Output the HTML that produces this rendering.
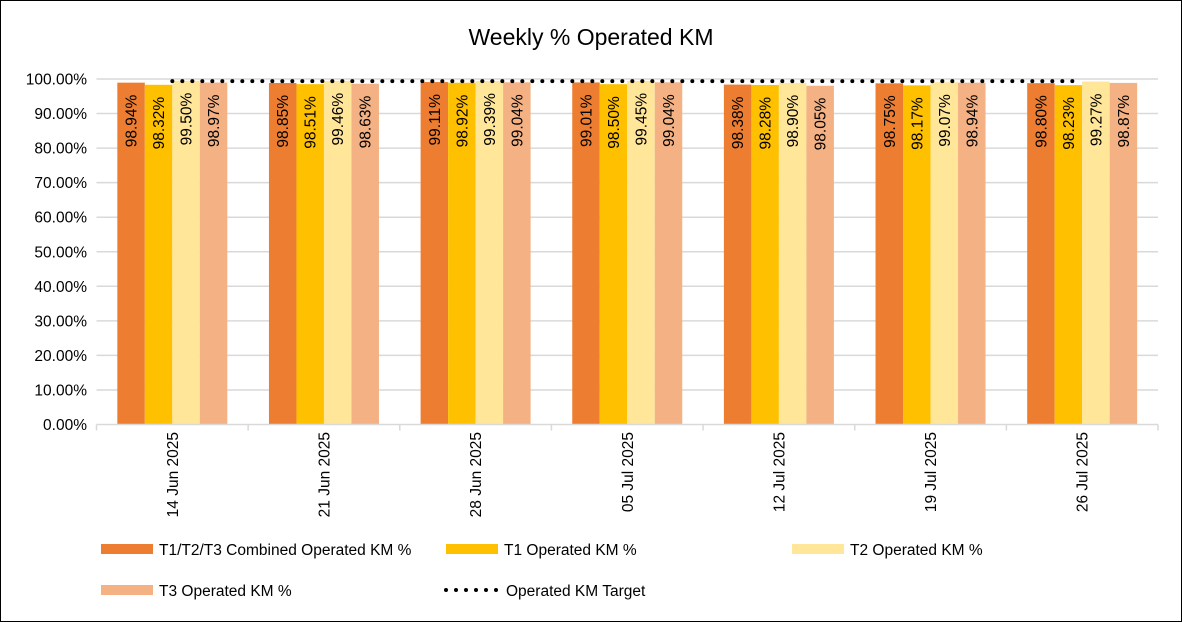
<!DOCTYPE html>
<html><head><meta charset="utf-8"><style>
body{margin:0;background:#fff;}
svg{display:block;font-family:"Liberation Sans",Calibri,sans-serif;}
</style></head><body>
<svg id="chart" width="1182" height="622">
<rect x="0.5" y="0.5" width="1181" height="621" fill="#fff" stroke="#000"/>
<text x="591" y="45" font-size="23" text-anchor="middle">Weekly % Operated KM</text>
<g id="grid"></g><g id="bars"></g><g id="target"></g><g id="axes"></g>
<g font-size="15.5">
<g><rect x="101" y="544" width="52" height="10" fill="#ED7D31"/><text x="159" y="555">T1/T2/T3 Combined Operated KM %</text></g>
<g><rect x="446" y="544" width="52" height="10" fill="#FFC000"/><text x="504" y="555">T1 Operated KM %</text></g>
<g><rect x="792" y="544" width="52" height="10" fill="#FFE699"/><text x="850" y="555">T2 Operated KM %</text></g>
<g><rect x="101" y="585" width="52" height="10" fill="#F4B183"/><text x="159" y="596">T3 Operated KM %</text></g>
<g><line x1="446" y1="590" x2="498" y2="590" stroke="#000" stroke-width="4" stroke-linecap="round" stroke-dasharray="0,10"/><text x="506" y="596">Operated KM Target</text></g>
</g>
</svg>
<script>
const categories=["14 Jun 2025","21 Jun 2025","28 Jun 2025","05 Jul 2025","12 Jul 2025","19 Jul 2025","26 Jul 2025"];
const combined=[98.94,98.85,99.11,99.01,98.38,98.75,98.80];
const t1=[98.32,98.51,98.92,98.50,98.28,98.17,98.23];
const t2=[99.50,99.46,99.39,99.45,98.90,99.07,99.27];
const t3=[98.97,98.63,99.04,99.04,98.05,98.94,98.87];
const target=[99.4,99.4,99.4,99.4,99.4,99.4,99.4];
const yTicks=[0,10,20,30,40,50,60,70,80,90,100];
const NS="http://www.w3.org/2000/svg";
const x0=96.5,x1=1158,y0=424.5,y100=79;
const gw=(x1-x0)/categories.length;
const y=v=>y0-(v/100)*(y0-y100);
const gx=i=>x0+gw*i;
function mk(tag,attrs,parent){const e=document.createElementNS(NS,tag);for(const k in attrs)e.setAttribute(k,attrs[k]);parent.appendChild(e);return e;}
const grid=document.getElementById('grid'),bars=document.getElementById('bars'),tg=document.getElementById('target'),axes=document.getElementById('axes');
yTicks.forEach(t=>{
 if(t>0){const l=mk('line',{x1:x0,x2:x1,y1:y(t),y2:y(t),stroke:'#d9d9d9','stroke-width':1.5},grid);
 
 }
 const tx=mk('text',{x:87,y:y(t)+5.5,'font-size':15.5,'text-anchor':'end'},axes);
 tx.textContent=t.toFixed(2)+'%';
 
 
});
const al=mk('line',{x1:x0,x2:x1,y1:y0,y2:y0,stroke:'#d9d9d9','stroke-width':1.5},axes);


for(let i=0;i<=categories.length;i++){const t=mk('line',{x1:gx(i),x2:gx(i),y1:y0,y2:y0+6,stroke:'#d9d9d9','stroke-width':1.5},axes);
 
 }
const series=[[combined,'#ED7D31','combined'],[t1,'#FFC000','t1'],[t2,'#FFE699','t2'],[t3,'#F4B183','t3']];
const bw=27.5,gap=(gw-4*bw)/2;
categories.forEach((c,i)=>{
 series.forEach((s,j)=>{
  const v=s[0][i],bx=gx(i)+gap+j*bw;
  const r=mk('rect',{x:bx,y:y(v),width:bw,height:y0-y(v),fill:s[1]},bars);
  
  
  const cx=bx+bw/2+5.5,ty=y(v)+12;
  const t=mk('text',{x:cx,y:ty,'font-size':15.5,'text-anchor':'end',transform:`rotate(-90 ${cx} ${ty})`},bars);
  t.textContent=v.toFixed(2)+'%';
  
  
 });
 const lx=gx(i)+gw/2+5.5,ly=432;
 const t=mk('text',{x:lx,y:ly,'font-size':15.5,'text-anchor':'end',transform:`rotate(-90 ${lx} ${ly})`},axes);
 t.textContent=c;
 
 
});
const pts=target.map((v,i)=>(gx(i)+gw/2)+','+y(v)).join(' ');
const pl=mk('polyline',{points:pts,fill:'none',stroke:'#000','stroke-width':4,'stroke-linecap':'round','stroke-dasharray':'0,10'},tg);


</script>
</body></html>
